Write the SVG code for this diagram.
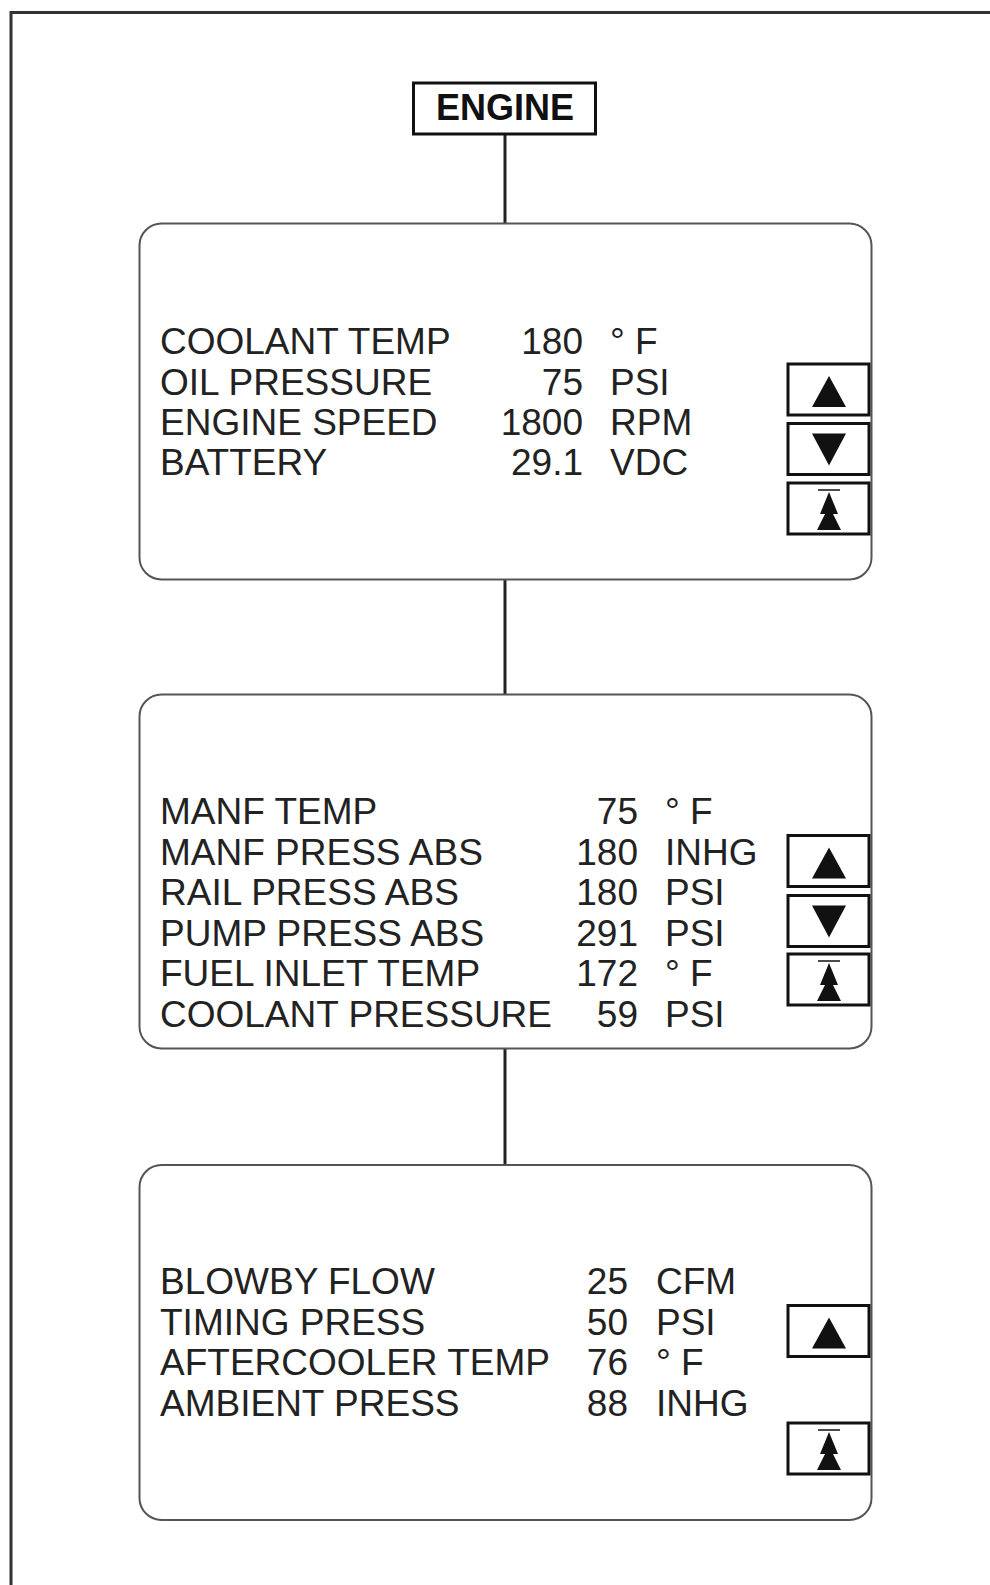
<svg xmlns="http://www.w3.org/2000/svg" width="990" height="1585" viewBox="0 0 990 1585">
<style>
  .frame{fill:none;stroke:#333;stroke-width:3}
  .panel{fill:#fff;stroke:#555;stroke-width:2}
  .title{fill:#fff;stroke:#111;stroke-width:3}
  .btn{fill:#fff;stroke:#111;stroke-width:3}
  .tri{fill:#111}
  .bar{stroke:#111;stroke-width:1.5}
  .conn{stroke:#222;stroke-width:3;fill:none}
  text{font-family:"Liberation Sans",Arial,sans-serif;fill:#222}
  .t{font-size:37px}
  .v{font-size:37px;text-anchor:end}
  .h{font-size:36px;font-weight:bold;text-anchor:middle;fill:#111}
</style>
<defs>
  <g id="up"><rect class="btn" x="788" y="0" width="81" height="51"/><polygon class="tri" points="829,12 812,43 846,43"/></g>
  <g id="down"><rect class="btn" x="788" y="0" width="81" height="51"/><polygon class="tri" points="812,10 846,10 829,42"/></g>
  <g id="home"><rect class="btn" x="788" y="0" width="81" height="51"/><line class="bar" x1="818" y1="7" x2="840" y2="7"/><polygon class="tri" points="829,9 820,31 838,31"/><polygon class="tri" points="829,23 817,47 841,47"/></g>
</defs>
<rect width="990" height="1585" fill="#fff"/>
<path class="frame" d="M11,1585 V12.5 H990"/>
<g id="connectors">
  <line class="conn" x1="505" y1="134" x2="505" y2="224"/>
  <line class="conn" x1="505" y1="579" x2="505" y2="695"/>
  <line class="conn" x1="505" y1="1048" x2="505" y2="1165"/>
</g>
<g id="engine">
  <rect class="title" x="413.5" y="83" width="182" height="51"/>
  <text class="h" x="505" y="120">ENGINE</text>
</g>
<g id="panel1">
  <rect class="panel" x="139.5" y="223.5" width="732" height="356" rx="22"/>
  <text class="t" x="160" y="354">COOLANT TEMP</text>
  <text class="t" x="160" y="394.5">OIL PRESSURE</text>
  <text class="t" x="160" y="435">ENGINE SPEED</text>
  <text class="t" x="160" y="475">BATTERY</text>
  <text class="v" x="583" y="354">180</text>
  <text class="v" x="583" y="394.5">75</text>
  <text class="v" x="583" y="435">1800</text>
  <text class="v" x="583" y="475">29.1</text>
  <text class="t" x="610" y="354">° F</text>
  <text class="t" x="610" y="394.5">PSI</text>
  <text class="t" x="610" y="435">RPM</text>
  <text class="t" x="610" y="475">VDC</text>
  <use href="#up" y="364"/>
  <use href="#down" y="423.5"/>
  <use href="#home" y="483"/>
</g>
<g id="panel2">
  <rect class="panel" x="139.5" y="694.5" width="732" height="354" rx="22"/>
  <text class="t" x="160" y="824">MANF TEMP</text>
  <text class="t" x="160" y="864.5">MANF PRESS ABS</text>
  <text class="t" x="160" y="905">RAIL PRESS ABS</text>
  <text class="t" x="160" y="945.5">PUMP PRESS ABS</text>
  <text class="t" x="160" y="986">FUEL INLET TEMP</text>
  <text class="t" x="160" y="1026.5">COOLANT PRESSURE</text>
  <text class="v" x="638" y="824">75</text>
  <text class="v" x="638" y="864.5">180</text>
  <text class="v" x="638" y="905">180</text>
  <text class="v" x="638" y="945.5">291</text>
  <text class="v" x="638" y="986">172</text>
  <text class="v" x="638" y="1026.5">59</text>
  <text class="t" x="665" y="824">° F</text>
  <text class="t" x="665" y="864.5">INHG</text>
  <text class="t" x="665" y="905">PSI</text>
  <text class="t" x="665" y="945.5">PSI</text>
  <text class="t" x="665" y="986">° F</text>
  <text class="t" x="665" y="1026.5">PSI</text>
  <use href="#up" y="835.5"/>
  <use href="#down" y="895.5"/>
  <use href="#home" y="954"/>
</g>
<g id="panel3">
  <rect class="panel" x="139.5" y="1165" width="732" height="355" rx="22"/>
  <text class="t" x="160" y="1294">BLOWBY FLOW</text>
  <text class="t" x="160" y="1335">TIMING PRESS</text>
  <text class="t" x="160" y="1375">AFTERCOOLER TEMP</text>
  <text class="t" x="160" y="1415.5">AMBIENT PRESS</text>
  <text class="v" x="628" y="1294">25</text>
  <text class="v" x="628" y="1335">50</text>
  <text class="v" x="628" y="1375">76</text>
  <text class="v" x="628" y="1415.5">88</text>
  <text class="t" x="656" y="1294">CFM</text>
  <text class="t" x="656" y="1335">PSI</text>
  <text class="t" x="656" y="1375">° F</text>
  <text class="t" x="656" y="1415.5">INHG</text>
  <use href="#up" y="1305.5"/>
  <use href="#home" y="1423"/>
</g>
</svg>
